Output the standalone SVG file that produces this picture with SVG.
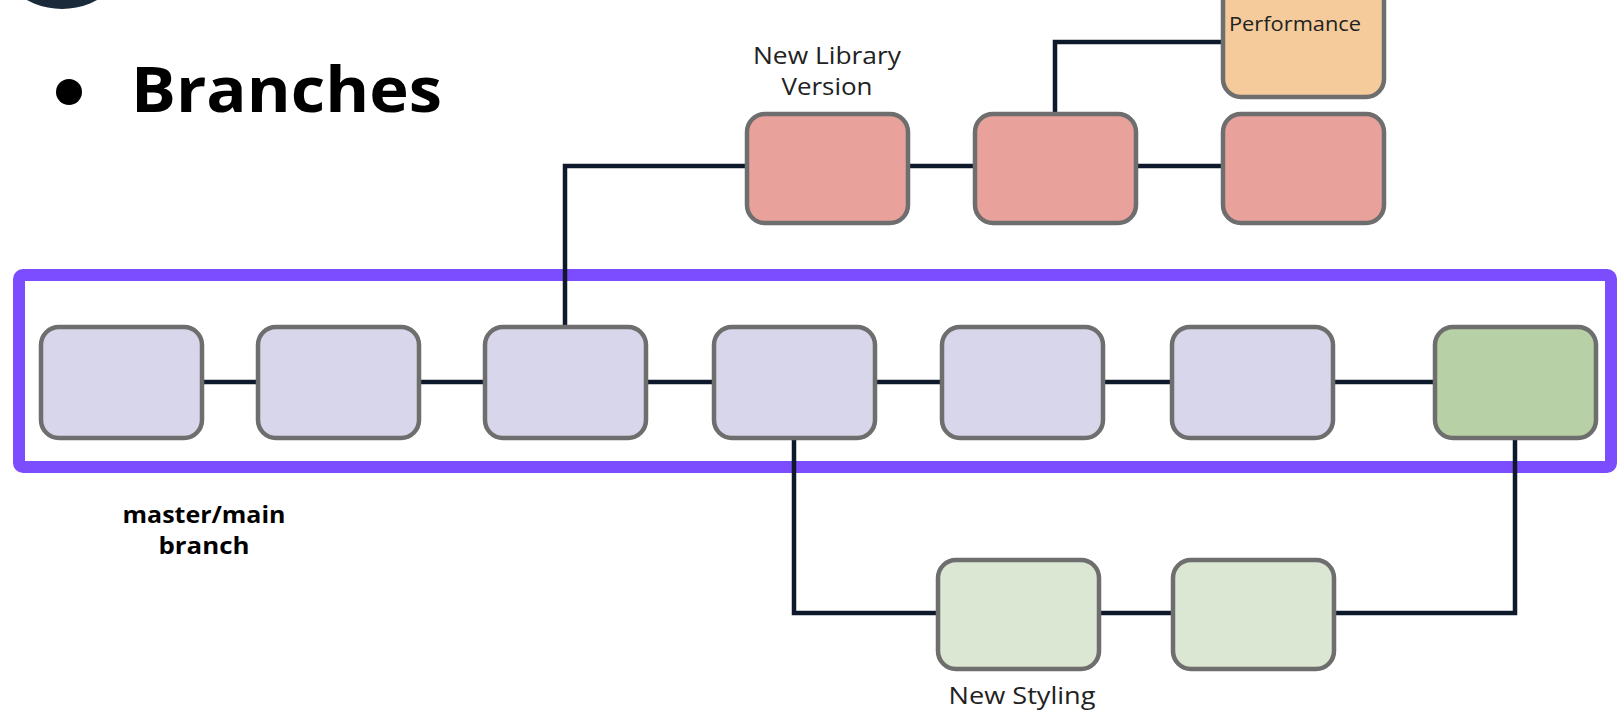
<svg xmlns="http://www.w3.org/2000/svg" width="1622" height="721" viewBox="0 0 1622 721">
<style>
.node{stroke:#6e6e6e;stroke-width:4.5}
.main{fill:#d8d6ea}
.red{fill:#e8a19b}
.orange{fill:#f6cb9b}
.green{fill:#b8d0a6}
.lgreen{fill:#dbe6d3}
.conn{fill:none;stroke:#0e1a2b;stroke-width:4.5}
.lbl{font-family:"Open Sans","Noto Sans",sans-serif;font-size:24px;fill:#222;text-anchor:middle}
.bold{font-family:"Open Sans","Noto Sans",sans-serif;font-weight:700;fill:#000}
</style>
<rect width="1622" height="721" fill="#ffffff"/>
<circle cx="62" cy="-64" r="73" fill="#1b2a3a"/>
<g id="title">
<circle cx="69" cy="92" r="13" fill="#000"/>
<text x="131" y="112" class="bold" font-size="62" textLength="311" lengthAdjust="spacingAndGlyphs">Branches</text>
</g>
<rect id="main-frame" x="19" y="275" width="1592" height="192" rx="4" fill="none" stroke="#7c4dff" stroke-width="12"/>
<g id="connectors">
<path class="conn" d="M204 382 H1433"/>
<path class="conn" d="M565 325 V166 H745"/>
<path class="conn" d="M908 166 H1221"/>
<path class="conn" d="M1055 112 V42 H1221"/>
<path class="conn" d="M794 440 V613 H1515 V440"/>
</g>
<g id="m1"><rect class="node main" x="41" y="327" width="161" height="111" rx="18"/></g>
<g id="m2"><rect class="node main" x="258" y="327" width="161" height="111" rx="18"/></g>
<g id="m3"><rect class="node main" x="485" y="327" width="161" height="111" rx="18"/></g>
<g id="m4"><rect class="node main" x="714" y="327" width="161" height="111" rx="18"/></g>
<g id="m5"><rect class="node main" x="942" y="327" width="161" height="111" rx="18"/></g>
<g id="m6"><rect class="node main" x="1172" y="327" width="161" height="111" rx="18"/></g>
<g id="m7"><rect class="node green" x="1435" y="327" width="161" height="111" rx="18"/></g>
<g id="r1"><rect class="node red" x="747" y="114" width="161" height="109" rx="18"/></g>
<g id="r2"><rect class="node red" x="975" y="114" width="161" height="109" rx="18"/></g>
<g id="r3"><rect class="node red" x="1223" y="114" width="161" height="109" rx="18"/></g>
<g id="perf"><rect class="node orange" x="1223" y="-30" width="161" height="127" rx="18"/>
<text x="1295" y="31" class="lbl" style="font-size:20px" textLength="132" lengthAdjust="spacingAndGlyphs">Performance</text></g>
<g id="s1"><rect class="node lgreen" x="938" y="560" width="161" height="109" rx="18"/></g>
<g id="s2"><rect class="node lgreen" x="1173" y="560" width="161" height="109" rx="18"/></g>
<text x="827" y="64" class="lbl" textLength="148" lengthAdjust="spacingAndGlyphs">New Library</text>
<text x="827" y="95" class="lbl" textLength="91" lengthAdjust="spacingAndGlyphs">Version</text>
<text x="1022" y="704" class="lbl" textLength="147" lengthAdjust="spacingAndGlyphs">New Styling</text>
<text x="204" y="523" class="bold" font-size="24" text-anchor="middle" textLength="163" lengthAdjust="spacingAndGlyphs">master/main</text>
<text x="204" y="554" class="bold" font-size="24" text-anchor="middle" textLength="91" lengthAdjust="spacingAndGlyphs">branch</text>
</svg>
